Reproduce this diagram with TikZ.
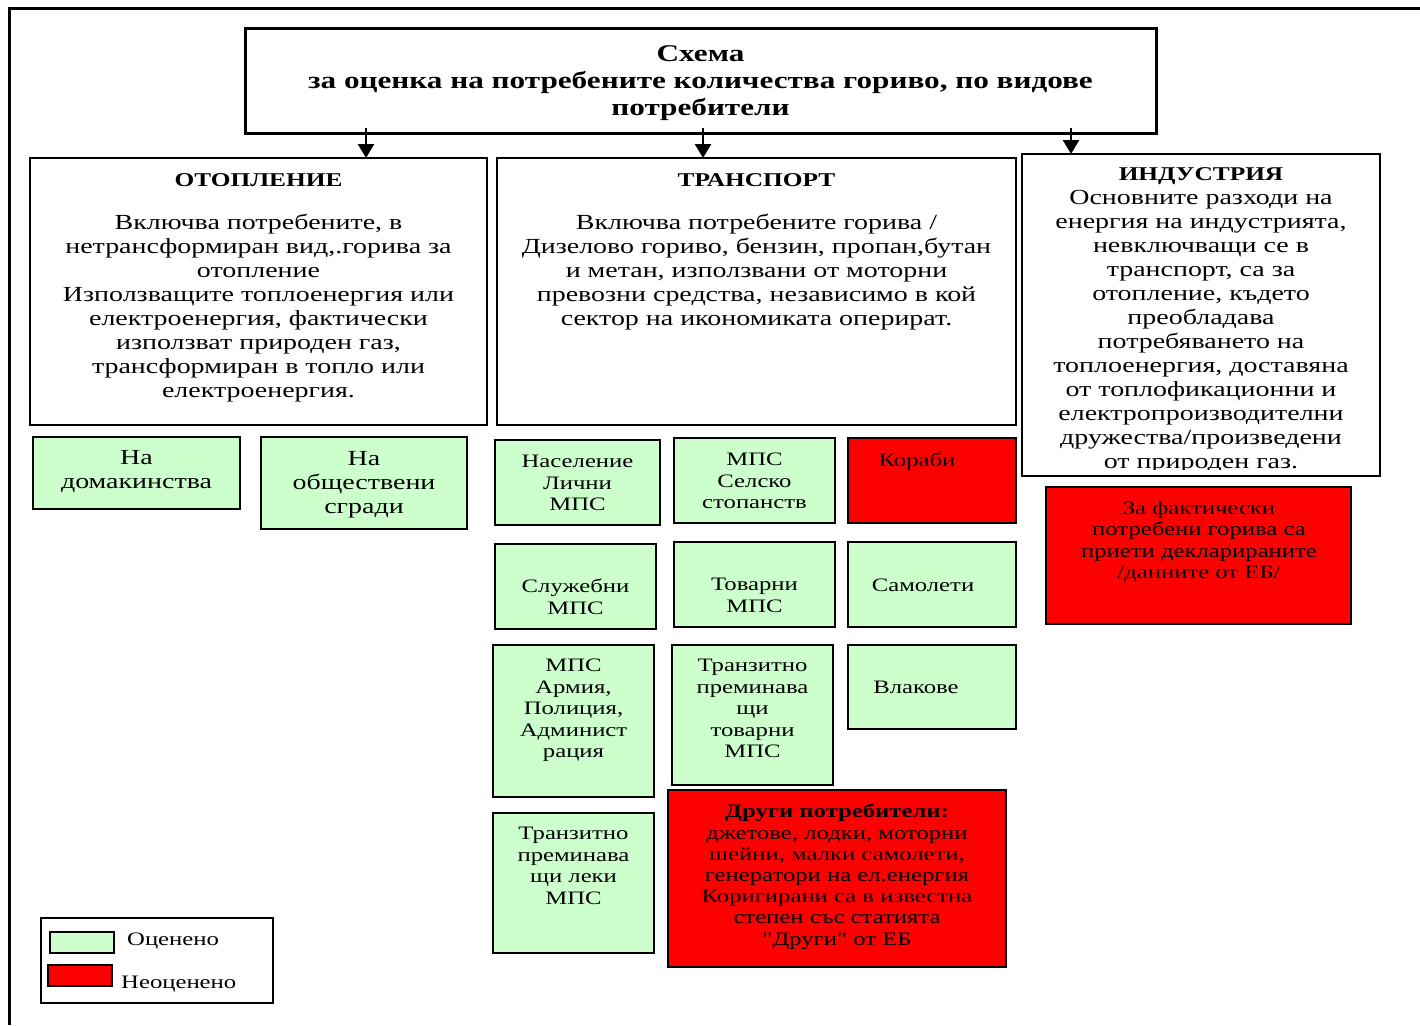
\documentclass[tikz,border=0pt]{standalone}
\usepackage{fontspec}
\setmainfont{Liberation Serif}[FakeStretch=1.3]
\newfontfamily\qfont{Liberation Serif}[FakeStretch=1.3]
\usepackage{tikz}
\usetikzlibrary{arrows,arrows.meta,positioning}
\definecolor{ocen}{HTML}{CCFFCC}
\definecolor{neocen}{HTML}{FF0000}
\tikzstyle{frame}=[draw=black, line width=2pt, inner sep=0, outer sep=0,
                anchor=north west]
\tikzstyle{gbox}=[frame, fill=ocen]
\tikzstyle{rbox}=[frame, fill=neocen]
\tikzstyle{txt}=[inner sep=0, align=center, anchor=north,
                execute at begin node=\strut, font=\fontsize{21.5}{24}\selectfont]
\tikzstyle{stxt}=[txt, font=\fontsize{19}{21.5}\selectfont]
\tikzstyle{one}=[inner sep=0, anchor=base, font=\fontsize{19}{21.5}\selectfont]
\tikzstyle{head}=[one, font=\bfseries\fontsize{19.5}{24}\selectfont]
\tikzstyle{arr}=[line width=2.5pt, -{Triangle[length=14pt,width=16pt]}]

\begin{document}
\begin{tikzpicture}[x=1pt, y=-1pt]
\useasboundingbox (0,0) rectangle (1420,1025);
\draw[line width=3.5pt] (1420,8.5) -- (9.5,8.5) -- (9.5,1025);

% title
\node[frame, line width=3pt, minimum width=911pt, minimum height=104pt] (schema) at (245,29) {};
\node[txt, font=\bfseries\fontsize{24}{27}\selectfont] (schema-t) at (700.5,45)
  {Схема\\за оценка на потребените количества гориво, по видове\\потребители};

% main groups
\node[frame, minimum width=457pt, minimum height=267pt] (heat) at (30,158) {};
\node[frame, minimum width=519pt, minimum height=267pt] (trans) at (497,158) {};
\node[frame, minimum width=358pt, minimum height=322pt] (ind) at (1022,154) {};
\node[head] (heat-h) at (258.5,186) {ОТОПЛЕНИЕ};
\node[txt] (heat-t) at (258.5,214)
  {Включва потребените, в\\нетрансформиран вид,.горива за\\отопление\\Използващите топлоенергия или\\
   електроенергия, фактически\\използват природен газ,\\трансформиран в топло или\\електроенергия.};
\node[head] (trans-h) at (756.5,186) {ТРАНСПОРТ};
\node[txt] (trans-t) at (756.5,214)
  {Включва потребените горива /\\Дизелово гориво, бензин, пропан,бутан\\и метан, използвани от моторни\\
   превозни средства, независимо в кой\\сектор на икономиката оперират.};
\begin{scope}
\clip (1022,154) rectangle (1380,469);
\node[txt] (ind-t) at (1201,167)
  {{\bfseries\fontsize{19.5}{24}\selectfont ИНДУСТРИЯ}\\Основните разходи на\\енергия на индустрията,\\невключващи се в\\транспорт, са за\\
   отопление, където\\преобладава\\потребяването на\\топлоенергия, доставяна\\от топлофикационни и\\
   електропроизводителни\\дружества/произведени\\от природен газ.};
\end{scope}

\coordinate (a1) at (366,128);
\coordinate (a2) at (703,128);
\coordinate (a3) at (1071,128);
\draw[arr] (a1) -- (a1 |- heat.north);
\draw[arr] (a2) -- (a2 |- trans.north);
\draw[arr] (a3) -- (a3 |- ind.north);

% heating
\node[gbox, minimum width=207pt, minimum height=72pt] (dom) at (33,437) {};
\node[txt] (dom-t) at (136.5,450) {На\\домакинства};
\node[gbox, minimum width=206pt, minimum height=92pt] (obs) at (261,437) {};
\node[txt] (obs-t) at (364,451) {На\\обществени\\сгради};

% transport
\node[gbox, minimum width=165pt, minimum height=85pt] (nas) at (495,440) {};
\node[stxt] (nas-t) at (577.5,455) {Население\\Лични\\МПС};
\node[gbox, minimum width=161pt, minimum height=85pt] (sel) at (674,438) {};
\node[stxt] (sel-t) at (754.5,453) {МПС\\Селско\\стопанств};
\node[rbox, minimum width=168pt, minimum height=85pt] (kor) at (848,438) {};
\node[one] (kor-t) at (917,466) {Кораби};

\node[gbox, minimum width=161pt, minimum height=85pt] (slu) at (495,544) {};
\node[stxt] (slu-t) at (575.5,579) {Служебни\\МПС};
\node[gbox, minimum width=161pt, minimum height=85pt] (tov) at (674,542) {};
\node[stxt] (tov-t) at (754.5,578) {Товарни\\МПС};
\node[gbox, minimum width=168pt, minimum height=85pt] (sam) at (848,542) {};
\node[one] (sam-t) at (923,591) {Самолети};

\node[gbox, minimum width=161pt, minimum height=152pt] (arm) at (493,645) {};
\node[stxt] (arm-t) at (573.5,659) {МПС\\Армия,\\Полиция,\\Админист\\рация};
\node[gbox, minimum width=161pt, minimum height=140pt] (trt) at (672,645) {};
\node[stxt] (trt-t) at (752.5,659) {Транзитно\\преминава\\щи\\товарни\\МПС};
\node[gbox, minimum width=168pt, minimum height=84pt] (vla) at (848,645) {};
\node[one] (vla-t) at (916,693) {Влакове};

\node[gbox, minimum width=161pt, minimum height=140pt] (trl) at (493,813) {};
\node[stxt] (trl-t) at (573.5,827) {Транзитно\\преминава\\щи леки\\МПС};
\node[rbox, minimum width=338pt, minimum height=177pt] (dru) at (668,790) {};
\node[stxt, font=\fontsize{19}{21.2}\selectfont] (dru-t) at (837,804)
  {\textbf{Други потребители:}\\джетове, лодки, моторни\\шейни, малки самолети,\\генератори на ел.енергия\\
   Коригирани са в известна\\степен със статията\\{\qfont"}Други{\qfont"} от ЕБ};

% industry
\node[rbox, minimum width=305pt, minimum height=137pt] (fak) at (1046,487) {};
\node[stxt] (fak-t) at (1199,501) {За фактически\\потребени горива са\\приети декларираните\\/данните от ЕБ/};

% legend
\node[frame, line width=1.8pt, minimum width=232pt, minimum height=85pt] (leg) at (41,918) {};
\node[gbox, minimum width=64pt, minimum height=21pt] (leg-g) at (50,932) {};
\node[rbox, minimum width=64pt, minimum height=21pt] (leg-r) at (48,965) {};
\node[one, anchor=base west] (leg-gt) at (127,945) {Оценено};
\node[one, anchor=base west] (leg-rt) at (121,988) {Неоценено};
\end{tikzpicture}
\end{document}
